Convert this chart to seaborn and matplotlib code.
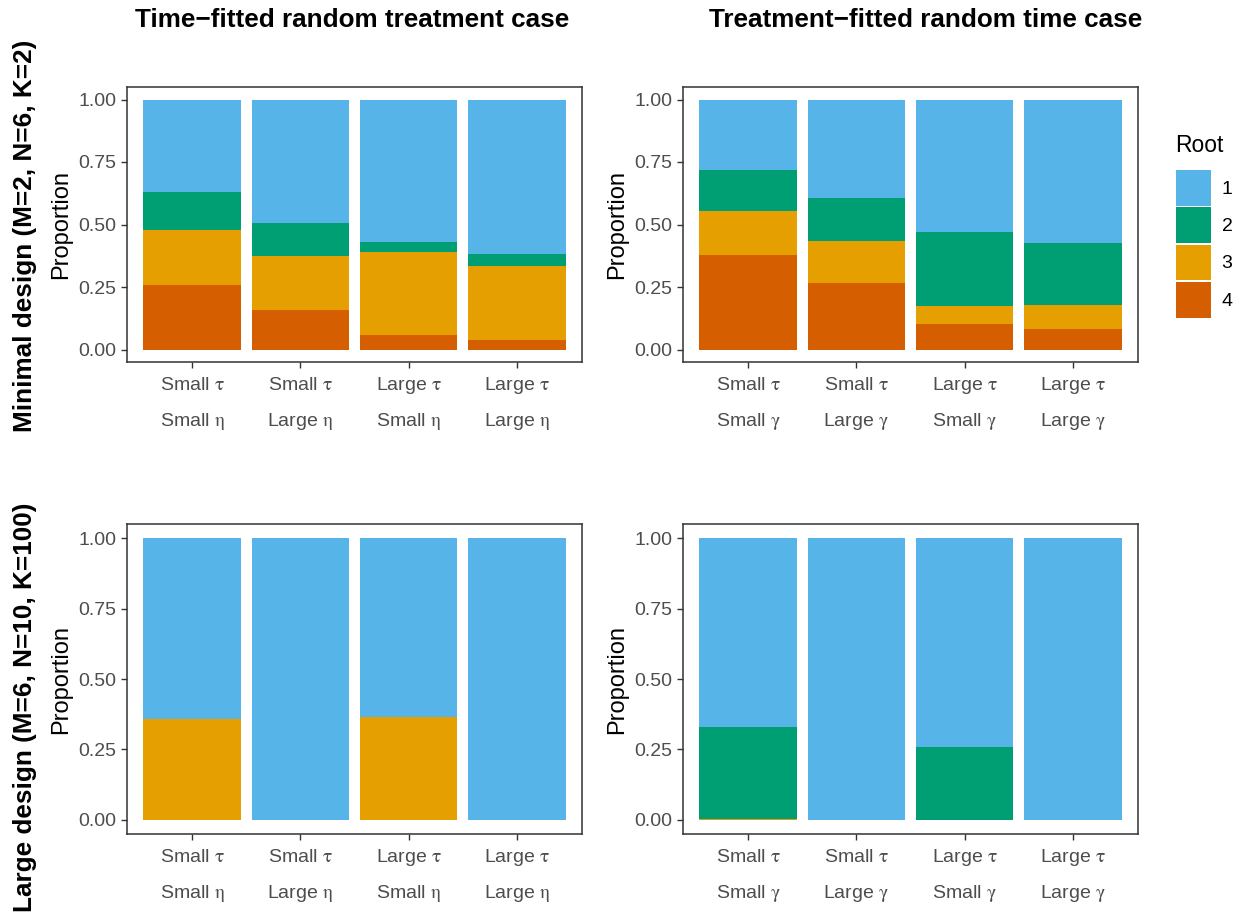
import pandas as pd
import seaborn as sns
import matplotlib.pyplot as plt
import matplotlib.transforms as mtransforms
from matplotlib.patches import Patch

# condition order on the x axis
conditions = ["SS", "SL", "LS", "LL"]
tau_levels = ["Small", "Small", "Large", "Large"]
second_levels = ["Small", "Large", "Small", "Large"]

# proportions of each root
# minimal design, time-fitted random treatment
min_time_r1 = [0.368, 0.494, 0.568, 0.617]
min_time_r2 = [0.153, 0.130, 0.040, 0.049]
min_time_r3 = [0.221, 0.217, 0.334, 0.297]
min_time_r4 = [0.258, 0.159, 0.058, 0.037]
# minimal design, treatment-fitted random time
min_treat_r1 = [0.282, 0.392, 0.528, 0.575]
min_treat_r2 = [0.163, 0.172, 0.297, 0.245]
min_treat_r3 = [0.176, 0.171, 0.074, 0.098]
min_treat_r4 = [0.379, 0.265, 0.101, 0.082]
# large design, time-fitted random treatment
large_time_r1 = [0.641, 1.000, 0.635, 1.000]
large_time_r2 = [0.000, 0.000, 0.000, 0.000]
large_time_r3 = [0.359, 0.000, 0.365, 0.000]
large_time_r4 = [0.000, 0.000, 0.000, 0.000]
# large design, treatment-fitted random time
large_treat_r1 = [0.672, 1.000, 0.743, 1.000]
large_treat_r2 = [0.323, 0.000, 0.257, 0.000]
large_treat_r3 = [0.005, 0.000, 0.000, 0.000]
large_treat_r4 = [0.000, 0.000, 0.000, 0.000]

roots = [1, 2, 3, 4]
root_colors = {1: "#56B4E9", 2: "#009E73", 3: "#E69F00", 4: "#D55E00"}

col_titles = ["Time\u2212fitted random treatment case", "Treatment\u2212fitted random time case"]
row_titles = ["Minimal design (M=2, N=6, K=2)", "Large design (M=6, N=10, K=100)"]

panels = {
    ("min", "time"): [min_time_r1, min_time_r2, min_time_r3, min_time_r4],
    ("min", "treat"): [min_treat_r1, min_treat_r2, min_treat_r3, min_treat_r4],
    ("large", "time"): [large_time_r1, large_time_r2, large_time_r3, large_time_r4],
    ("large", "treat"): [large_treat_r1, large_treat_r2, large_treat_r3, large_treat_r4],
}

# --- long dataframe ---
rows = []
for (design, case), series in panels.items():
    for r, vals in zip(roots, series):
        for c, v in zip(conditions, vals):
            rows.append({"design": design, "case": case, "cond": c, "root": r, "prop": v})
df = pd.DataFrame(rows)
# stacked: root 4 at the bottom, root 1 on top -> cumulative from the bottom
df = df.sort_values(["design", "case", "cond", "root"], ascending=[True, True, True, False])
df["cum"] = df.groupby(["design", "case", "cond"])["prop"].cumsum()

sns.set_style("white")
plt.rcParams["font.family"] = ["Liberation Sans", "DejaVu Sans"]
plt.rcParams["mathtext.fontset"] = "stix"
plt.rcParams["text.color"] = "black"
plt.rcParams["axes.labelcolor"] = "black"

W, H = 1256, 914
fig = plt.figure(figsize=(W / 100, H / 100), dpi=100)

# panel boxes in pixels (left, top, right, bottom)
boxes = {
    ("min", "time"): (127, 87, 582, 362),
    ("min", "treat"): (683, 87, 1138, 362),
    ("large", "time"): (127, 524, 582, 834),
    ("large", "treat"): (683, 524, 1138, 834),
}

grey30 = "#4D4D4D"
grey20 = "#333333"
tick_fs = 14

for (design, case), (l, t, r, b) in boxes.items():
    ax = fig.add_axes([l / W, 1 - b / H, (r - l) / W, (b - t) / H])
    sub = df[(df["design"] == design) & (df["case"] == case)]
    for root in roots:
        d = sub[sub["root"] == root]
        sns.barplot(
            data=d, x="cond", y="cum", order=conditions,
            color=root_colors[root], saturation=1, width=0.9,
            linewidth=0, ax=ax,
        )
    ax.set_xlim(-0.6, 3.6)
    ax.set_ylim(-0.05, 1.05)
    ax.set_yticks([0, 0.25, 0.5, 0.75, 1.0])
    ax.set_yticklabels(["0.00", "0.25", "0.50", "0.75", "1.00"])
    ax.set_xticks(range(4))
    ax.set_xlabel("")
    ax.set_ylabel("Proportion", fontsize=17, labelpad=5, color="black")
    ax.tick_params(axis="both", direction="out", length=4.5, width=1,
                   color=grey20, labelcolor=grey30, labelsize=tick_fs, pad=3,
                   bottom=True, left=True)
    ax.tick_params(axis="x", labelbottom=False)
    for sp in ax.spines.values():
        sp.set_color(grey20)
        sp.set_linewidth(1.1)

    # two-line condition labels, baseline aligned
    greek = r"\eta" if case == "time" else r"\gamma"
    trans = mtransforms.blended_transform_factory(ax.transData, ax.transAxes)
    off1 = mtransforms.ScaledTranslation(0, -27.5 / 100, fig.dpi_scale_trans)
    off2 = mtransforms.ScaledTranslation(0, -63.5 / 100, fig.dpi_scale_trans)
    for i, (a, s) in enumerate(zip(tau_levels, second_levels)):
        ax.text(i, 0, f"{a} $\\mathrm{{\\tau}}$", transform=trans + off1,
                ha="center", va="baseline", fontsize=tick_fs, color=grey30)
        ax.text(i, 0, f"{s} $\\mathrm{{{greek}}}$", transform=trans + off2,
                ha="center", va="baseline", fontsize=tick_fs, color=grey30)

fig.text(352 / W, 1 - 20 / H, col_titles[0], fontsize=18.8, fontweight="bold",
         ha="center", va="center", color="black")
fig.text(926 / W, 1 - 20 / H, col_titles[1], fontsize=18.8, fontweight="bold",
         ha="center", va="center", color="black")
fig.text(25 / W, 1 - 236 / H, row_titles[0], fontsize=18.8, fontweight="bold",
         rotation=90, ha="center", va="center", color="black")
fig.text(25 / W, 1 - 707 / H, row_titles[1], fontsize=18.8, fontweight="bold",
         rotation=90, ha="center", va="center", color="black")

# legend
fig.text(1175 / W, 1 - 145 / H, "Root", fontsize=16.5, ha="left", va="center",
         color="black")
handles = [Patch(facecolor=root_colors[r], edgecolor="none") for r in roots]
leg = fig.legend(handles, [str(r) for r in roots],
                 loc="upper left", bbox_to_anchor=(1176 / W, 1 - 170 / H),
                 frameon=False, fontsize=tick_fs, labelcolor="black",
                 handlelength=1.8, handleheight=2.45, labelspacing=0.08,
                 handletextpad=0.55, borderpad=0, borderaxespad=0)

fig.savefig("out.png", dpi=100)
